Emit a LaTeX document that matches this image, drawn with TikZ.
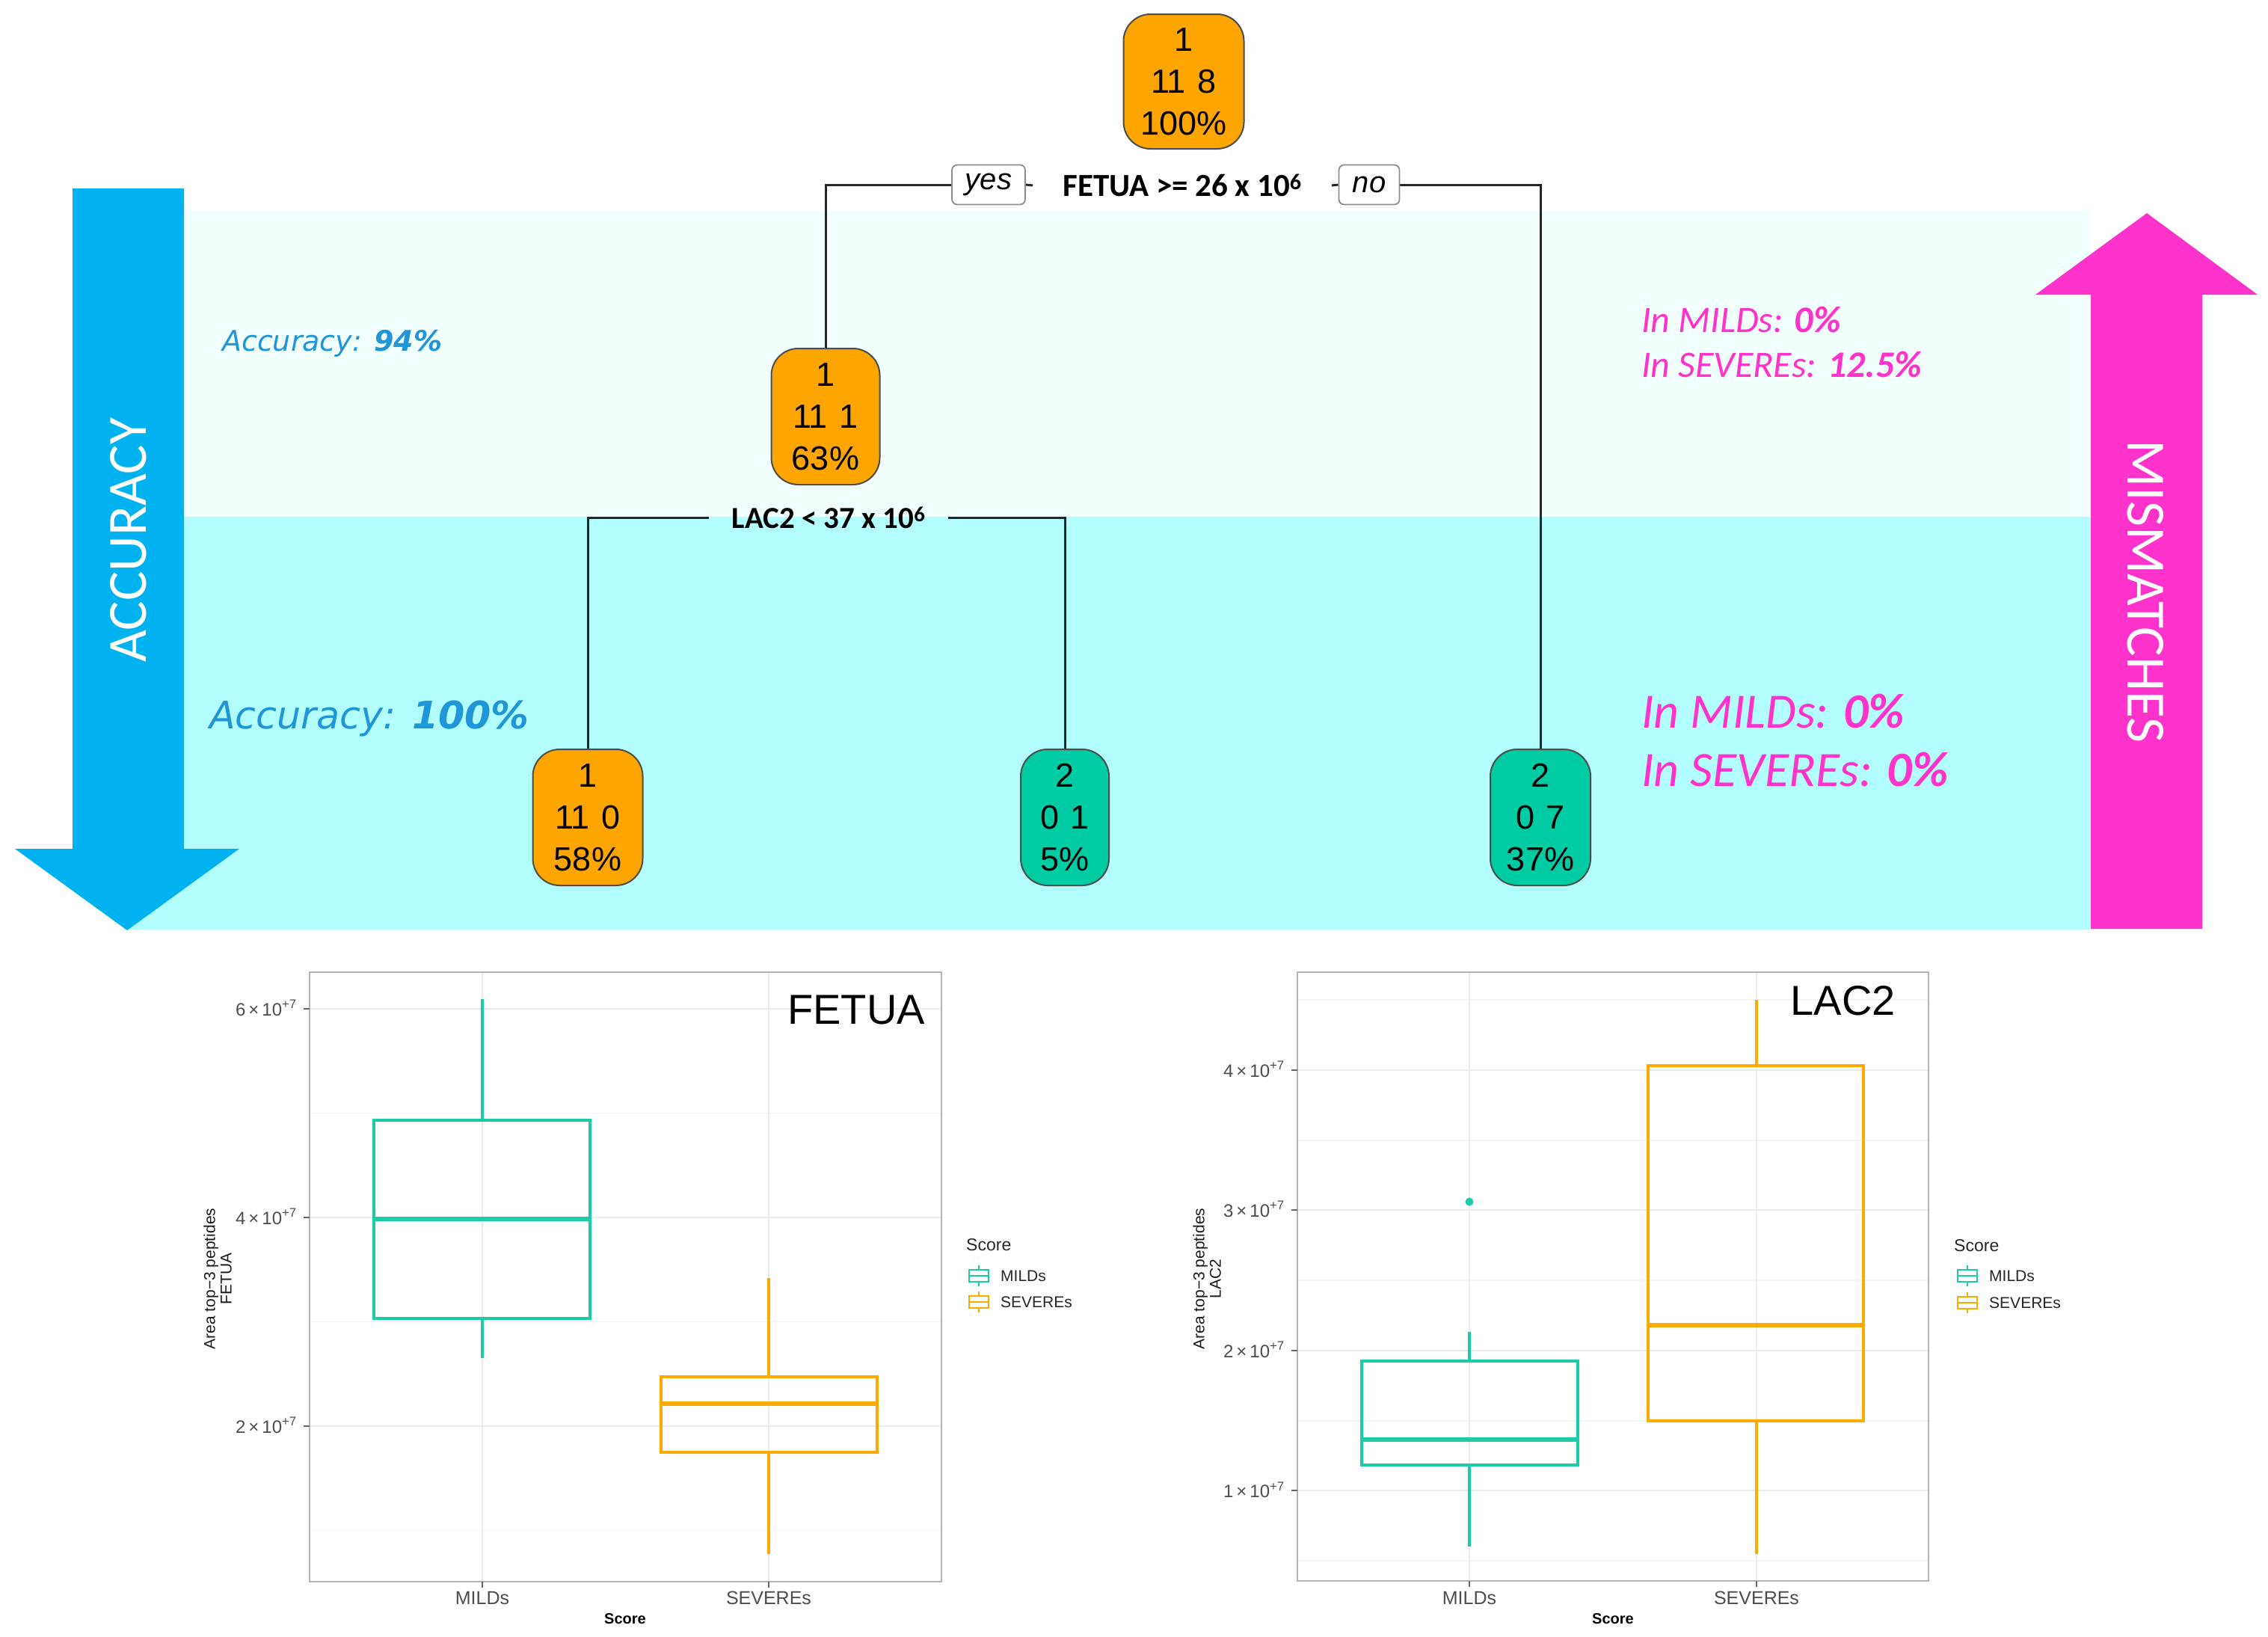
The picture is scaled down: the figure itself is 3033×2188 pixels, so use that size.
\documentclass[tikz,border=0pt]{standalone}
\usepackage{fontspec}
\setmainfont{Liberation Sans}
\newfontfamily\calfont{Carlito}
\newfontfamily\verdfont{DejaVu Sans}
\pgfdeclarelayer{bands}
\pgfdeclarelayer{edges}
\pgfsetlayers{bands,edges,main}
\definecolor{accblue}{RGB}{0,178,240}
\definecolor{txtblue}{RGB}{30,150,215}
\definecolor{magarrow}{RGB}{255,51,204}
\definecolor{bandlight}{RGB}{242,255,255}
\definecolor{banddark}{RGB}{179,255,255}
\definecolor{treeorange}{RGB}{255,165,0}
\definecolor{treeteal}{RGB}{0,204,163}
\definecolor{plotteal}{RGB}{26,205,166}
\definecolor{plotorange}{RGB}{255,170,0}
\definecolor{gridc}{RGB}{235,235,235}
\definecolor{gridminor}{RGB}{244,244,244}
\definecolor{framec}{RGB}{180,180,180}
\definecolor{ticktxt}{RGB}{77,77,77}
\newcommand\mylegkey[3]{%
  \draw[#3, line width=2.4pt] (#1-13,#2-8) rectangle (#1+13,#2+8);
  \draw[#3, line width=2.4pt] (#1-13,#2) -- (#1+13,#2);
  \draw[#3, line width=2.4pt] (#1,#2-8) -- (#1,#2-14) (#1,#2+8) -- (#1,#2+14);}
\begin{document}
\begin{tikzpicture}[x=1pt,y=-1pt,
  treenode/.style={draw=black!70, line width=2pt, rounded corners=36pt, align=center,
    minimum height=182pt, inner sep=0pt, font=\fontsize{45pt}{56pt}\selectfont},
  lblbox/.style={draw=black!45, fill=white, rounded corners=7pt, line width=1.8pt,
    font=\itshape\fontsize{40pt}{40pt}\selectfont, minimum height=53pt, inner xsep=8pt},
  splitlbl/.style={font=\calfont\bfseries\fontsize{43pt}{43pt}\selectfont, inner ysep=2pt},
  edge/.style={draw=black!85, line width=3pt},
  bluesmall/.style={font=\verdfont\itshape\fontsize{38pt}{38pt}\selectfont, text=txtblue, inner sep=0pt, anchor=base west},
  bluebig/.style={font=\verdfont\itshape\fontsize{50.7pt}{50.7pt}\selectfont, text=txtblue, inner sep=0pt, anchor=base west},
  pinksmall/.style={font=\calfont\itshape\fontsize{50pt}{50pt}\selectfont, text=magarrow, inner sep=0pt, anchor=base west},
  pinkbig/.style={font=\calfont\itshape\fontsize{66pt}{66pt}\selectfont, text=magarrow, inner sep=0pt, anchor=base west},
  bigarrowtxt/.style={text=white, font=\calfont\fontsize{74pt}{80pt}\selectfont, inner sep=0pt},
  gridmaj/.style={draw=gridc, line width=2.2pt},
  gridmin/.style={draw=gridminor, line width=1.2pt},
  frame/.style={draw=framec, line width=2.5pt},
  tickm/.style={draw=black!60, line width=1.5pt},
  ticklbl/.style={text=ticktxt, font=\fontsize{24pt}{24pt}\selectfont, inner sep=0pt, anchor=base east},
  xlbl/.style={text=ticktxt, font=\fontsize{25pt}{25pt}\selectfont, inner sep=0pt},
  xtitle/.style={font=\bfseries\fontsize{20pt}{20pt}\selectfont, inner sep=0pt},
  ytitle/.style={rotate=90, align=center, font=\fontsize{21pt}{22pt}\selectfont, inner sep=0pt, text=black!90},
  ptitle/.style={font=\fontsize{56pt}{56pt}\selectfont, inner sep=0pt, anchor=base east},
  legtitle/.style={font=\fontsize{23pt}{23pt}\selectfont, inner sep=0pt, anchor=west, text=black!85},
  legitem/.style={font=\fontsize{21pt}{21pt}\selectfont, inner sep=0pt, anchor=west, text=black!85},
  tealbox/.style={draw=plotteal, line width=3.5pt},
  orangebox/.style={draw=plotorange, line width=3.5pt}
]
\useasboundingbox (0,0) rectangle (3033,2188);
% ---------- bands ----------
\begin{pgfonlayer}{bands}
  \fill[bandlight] (170,281) rectangle (2796,691);
  \fill[banddark] (170,691) rectangle (2796,1243);
\end{pgfonlayer}
% ---------- big arrows ----------
\fill[accblue] (97,252) -- (246,252) -- (246,1135) -- (320,1135) -- (170,1244) -- (20,1135) -- (97,1135) -- cycle;
\fill[magarrow] (2796,1242) -- (2945,1242) -- (2945,394) -- (3019,394) -- (2871,285) -- (2722,394) -- (2796,394) -- cycle;
\node[bigarrowtxt, rotate=90] (acctxt) at (172,722) {ACCURACY};
\node[bigarrowtxt, rotate=-90] (mistxt) at (2869,791) {MISMATCHES};
% ---------- side texts ----------
\node[bluesmall] (acc94) at (297,469) {Accuracy: \textbf{94\%}};
\node[bluebig] (acc100) at (280,974) {Accuracy: \textbf{100\%}};
\node[pinksmall] (pm1) at (2195,444) {In MILDs: \textbf{0\%}};
\node[pinksmall] (ps1) at (2195,504) {In SEVEREs: \textbf{12.5\%}};
\node[pinkbig] (pm2) at (2195,973) {In MILDs: \textbf{0\%}};
\node[pinkbig] (ps2) at (2195,1051) {In SEVEREs: \textbf{0\%}};
% ---------- tree ----------
\node[treenode, fill=treeorange, minimum width=161pt, minimum height=180pt] (root) at (1583,109) {1\\11\hspace{0.35em}8\\100\%};
\node[treenode, fill=treeorange, minimum width=145pt] (mid) at (1104,557) {1\\11\hspace{0.35em}1\\63\%};
\node[treenode, fill=treeorange, minimum width=147pt] (leafa) at (786,1093) {1\\11\hspace{0.35em}0\\58\%};
\node[treenode, fill=treeteal, minimum width=118pt] (leafb) at (1424,1093) {2\\0\hspace{0.35em}1\\5\%};
\node[treenode, fill=treeteal, minimum width=134pt] (leafc) at (2060,1093) {2\\0\hspace{0.35em}7\\37\%};
\node[lblbox, minimum width=98pt] (yes) at (1322,247) {yes};
\node[lblbox, minimum width=81pt] (no) at (1831,247) {no};
\node[splitlbl, inner xsep=40pt] (fetua) at (1581,248) {FETUA >= 26 x 10\textsuperscript{6}};
\node[splitlbl, font=\calfont\bfseries\fontsize{41pt}{41pt}\selectfont, inner xsep=30pt] (lac) at (1108,692) {LAC2 < 37 x 10\textsuperscript{6}};
\begin{pgfonlayer}{edges}
  \draw[edge] (yes.west) -| (mid.north);
  \draw[edge] (no.east) -| (leafc.north);
  \draw[edge] (yes.east) -- (fetua.west);
  \draw[edge] (fetua.east) -- (no.west);
  \draw[edge] (lac.west) -| (leafa.north);
  \draw[edge] (lac.east) -| (leafb.north);
\end{pgfonlayer}
% ---------- FETUA plot ----------
\foreach \yy in {1488.5,1767.5,2046.5} \draw[gridmin] (414,\yy) -- (1259,\yy);
\foreach \yy in {1349,1628,1907} \draw[gridmaj] (414,\yy) -- (1259,\yy);
\foreach \xx in {645,1028} \draw[gridmaj] (\xx,1300) -- (\xx,2115);
\draw[frame] (414,1300) rectangle (1259,2115);
\foreach \yy in {1349,1628,1907} \draw[tickm] (406,\yy) -- (414,\yy);
\foreach \xx in {645,1028} \draw[tickm] (\xx,2115) -- (\xx,2123);
\draw[tealbox] (500,1498) rectangle (789,1763);
\draw[tealbox, line width=6pt] (500,1630) -- (789,1630);
\draw[tealbox] (645,1498) -- (645,1336) (645,1763) -- (645,1816);
\draw[orangebox] (884,1841) rectangle (1173,1942);
\draw[orangebox, line width=6pt] (884,1877) -- (1173,1877);
\draw[orangebox] (1028,1841) -- (1028,1709) (1028,1942) -- (1028,2078);
\node[ticklbl] (fa6) at (397,1358) {6\,×\,10\textsuperscript{+7}};
\node[ticklbl] (fa4) at (397,1637) {4\,×\,10\textsuperscript{+7}};
\node[ticklbl] (fa2) at (397,1916) {2\,×\,10\textsuperscript{+7}};
\node[ytitle] (fay) at (291,1710) {Area top−3 peptides\\FETUA};
\node[xlbl] (fam) at (645,2137) {MILDs};
\node[xlbl] (fas) at (1028,2137) {SEVEREs};
\node[xtitle] (fax) at (836,2165) {Score};
\node[ptitle] (fat) at (1237,1369) {FETUA};
\node[legtitle] (fal) at (1292,1665) {Score};
\mylegkey{1309}{1706}{plotteal}
\mylegkey{1309}{1741}{plotorange}
\node[legitem] (falm) at (1338,1706) {MILDs};
\node[legitem] (fals) at (1338,1741) {SEVEREs};
% ---------- LAC2 plot ----------
\foreach \yy in {1337,1525,1712,1900,2087} \draw[gridmin] (1735,\yy) -- (2579,\yy);
\foreach \yy in {1431,1618,1806,1993} \draw[gridmaj] (1735,\yy) -- (2579,\yy);
\foreach \xx in {1965,2349} \draw[gridmaj] (\xx,1300) -- (\xx,2114);
\draw[frame] (1735,1300) rectangle (2579,2114);
\foreach \yy in {1431,1618,1806,1993} \draw[tickm] (1727,\yy) -- (1735,\yy);
\foreach \xx in {1965,2349} \draw[tickm] (\xx,2114) -- (\xx,2122);
\draw[tealbox] (1821,1820) rectangle (2110,1959);
\draw[tealbox, line width=6pt] (1821,1925) -- (2110,1925);
\draw[tealbox] (1965,1820) -- (1965,1781) (1965,1959) -- (1965,2068);
\fill[plotteal] (1965,1607) circle (5.5pt);
\draw[orangebox] (2204,1425) rectangle (2492,1900);
\draw[orangebox, line width=6pt] (2204,1772) -- (2492,1772);
\draw[orangebox] (2349,1425) -- (2349,1337) (2349,1900) -- (2349,2078);
\node[ticklbl] (la4) at (1718,1440) {4\,×\,10\textsuperscript{+7}};
\node[ticklbl] (la3) at (1718,1627) {3\,×\,10\textsuperscript{+7}};
\node[ticklbl] (la2) at (1718,1815) {2\,×\,10\textsuperscript{+7}};
\node[ticklbl] (la1) at (1718,2002) {1\,×\,10\textsuperscript{+7}};
\node[ytitle] (lay) at (1614,1710) {Area top−3 peptides\\LAC2};
\node[xlbl] (lam) at (1965,2137) {MILDs};
\node[xlbl] (las) at (2349,2137) {SEVEREs};
\node[xtitle] (lax) at (2157,2165) {Score};
\node[ptitle] (lat) at (2535,1357) {LAC2};
\node[legtitle] (lal) at (2613,1666) {Score};
\mylegkey{2631}{1706}{plotteal}
\mylegkey{2631}{1742}{plotorange}
\node[legitem] (lalm) at (2660,1706) {MILDs};
\node[legitem] (lals) at (2660,1742) {SEVEREs};
\end{tikzpicture}
\end{document}
